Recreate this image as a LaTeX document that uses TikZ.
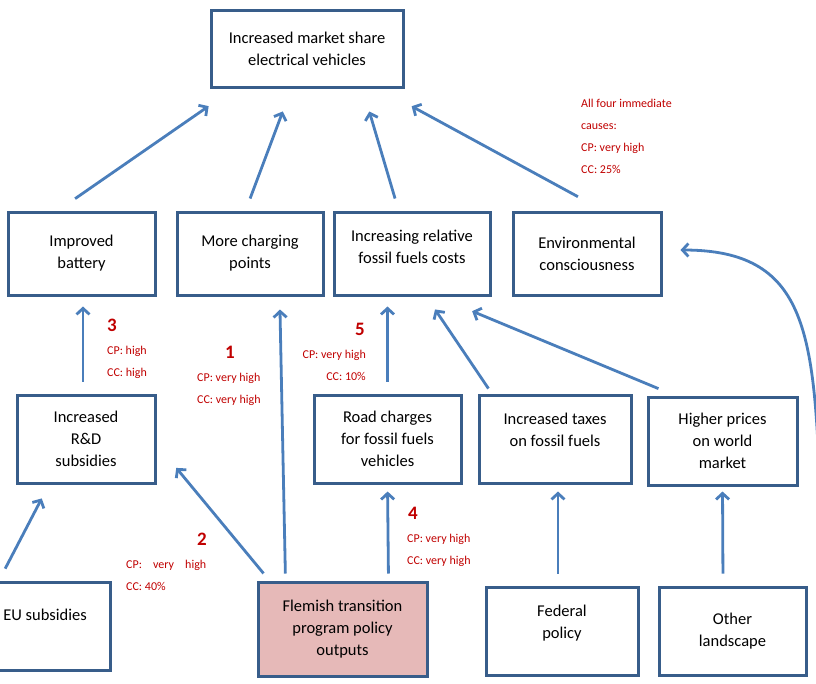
\documentclass[tikz,border=0pt]{standalone}
\usepackage{fontspec}
\setmainfont{Carlito}
\usepackage{tikz}
\usetikzlibrary{arrows.meta, positioning, calc}
\definecolor{boxblue}{HTML}{385D8A}
\definecolor{linkblue}{HTML}{4A7EBB}
\definecolor{policypink}{HTML}{E6B9B8}
\definecolor{notered}{HTML}{C00000}

\begin{document}
\begin{tikzpicture}[
    x=1pt, y=-1pt,
    box/.style 2 args={draw=boxblue, line width=3pt, align=center,
                       minimum width=#1, minimum height=#2,
                       font=\fontsize{16.5}{22}\selectfont},
    link/.style={-{Straight Barb[length=6pt, width=13pt]}, line width=2.8pt, linkblue},
    note/.style={notered, inner sep=0pt, font=\fontsize{12}{22}\selectfont},
    score/.style={notered, inner sep=0pt, font=\fontsize{19}{20}\selectfont\bfseries},
]
    \useasboundingbox (0,0) rectangle (816,683);
    \clip (0,0) rectangle (816,683);

    % Outcome and immediate causes
    \node[box={192pt}{77pt}] (share) at (307,48.5) {Increased market share\\electrical vehicles};
    \node[box={147pt}{83pt}] (battery) at (81.5,253.5) {Improved\\battery};
    \node[box={146pt}{83pt}] (charging) at (250,253.5) {More charging\\points};
    \node[box={156pt}{83pt}] (fossil) at (412,253.5) {Increasing relative\\fossil fuels costs\\[-16pt]\strut};
    \node[box={148pt}{83pt}] (environ) at (587,253.5) {Environmental\\consciousness};

    % Intermediate causes
    \node[box={138pt}{88pt}] (rnd) at (86,439) {Increased\\R\&D\\subsidies};
    \node[box={147pt}{88pt}] (road) at (387.5,439) {Road charges\\for fossil fuels\\vehicles};
    \node[box={152pt}{88pt}] (taxes) at (555,439) {Increased taxes\\on fossil fuels\\[-10pt]\strut};
    \node[box={149pt}{88pt}] (prices) at (722.5,441) {Higher prices\\on world\\market};

    % Policies and landscape
    \node[box={130pt}{88pt}] (eu) at (45,626) {EU subsidies\\[-7pt]\strut};
    \node[box={169pt}{94pt}, fill=policypink] (flemish) at (342.5,629) {Flemish transition\\program policy\\outputs};
    \node[box={152pt}{88pt}] (federal) at (562,631) {Federal\\policy\\[-11pt]\strut};
    \node[box={147pt}{88pt}] (landscape) at (732.5,631) {Other\\landscape};
    \coordinate (offpage) at (820,492);

    % Links to the outcome
    \draw[link, shorten <=20.8pt, shorten >=31pt] ([xshift=-23.5pt]battery.north) -- ([xshift=24.6pt]share.south west);
    \draw[link, shorten <=12.8pt, shorten >=24.5pt] ([xshift=-4.4pt]charging.north) -- ([xshift=-15.6pt]share.south);
    \draw[link, shorten <=12.5pt, shorten >=24pt] ([xshift=-13.4pt]fossil.north) -- ([xshift=-42pt]share.south east);
    \draw[link, shorten <=28.9pt, shorten >=37.2pt] ([xshift=16.3pt]environ.north) -- ([xshift=-25.5pt]share.south east);

    % Links to the immediate causes
    \draw[link, shorten <=12pt, shorten >=10pt] ([xshift=-3pt]rnd.north) -- ([xshift=1.5pt]battery.south);
    \draw[link, shorten <=7pt, shorten >=13pt] ([xshift=29pt]flemish.north west) -- ([xshift=29.7pt]charging.south);
    \draw[link, shorten <=12pt, shorten >=10pt] (road.north) -- ([xshift=-24.5pt]fossil.south);
    \draw[link, shorten <=6pt, shorten >=15.6pt] ([xshift=14.3pt]taxes.north west) -- ([xshift=14.3pt]fossil.south);
    \draw[link, shorten <=17.9pt, shorten >=38.3pt] ([xshift=28.5pt]prices.north west) -- ([xshift=24.8pt]fossil.south);
    \draw[link, shorten >=18pt] (offpage) .. controls (814,330) and (806,250) .. ([yshift=3.5pt]environ.east);

    % Links from the policies
    \draw[link, shorten <=13.4pt, shorten >=15.7pt] ([xshift=-46pt]eu.north) -- ([xshift=-37pt]rnd.south);
    \draw[link, shorten <=9.2pt, shorten >=31pt] ([xshift=12.9pt]flemish.north west) -- ([yshift=-5pt]rnd.east);
    \draw[link, shorten <=7pt, shorten >=7pt] ([xshift=-40pt]flemish.north east) -- (road.south);
    \draw[link, shorten <=12pt, shorten >=7pt] ([xshift=-4pt]federal.north) -- ([xshift=3pt]taxes.south);
    \draw[link, shorten <=12pt, shorten >=5pt] ([xshift=-9.5pt]landscape.north) -- (prices.south);

    % Scores
    \node[note, anchor=north west, align=left] (allfour) at (581,98.5) {All four immediate\\causes:\\CP: very high\\CC: 25\%};
    \node[score] (s3) at (112,325) {3};
    \node[note, anchor=north west, align=left] (n3) at (107,345.5) {CP: high\\CC: high};
    \node[score] (s1) at (230,352) {1};
    \node[note, anchor=north west, align=left] (n1) at (197,372.5) {CP: very high\\CC: very high};
    \node[score] (s5) at (360,329) {5};
    \node[note, anchor=north east, align=right] (n5) at (366,349.5) {CP: very high\\CC: 10\%};
    \node[score] (s2) at (202,539) {2};
    \node[note, anchor=north west, align=left] (n2) at (126,559.5) {\makebox[80pt][s]{CP: very high}\\CC: 40\%};
    \node[score] (s4) at (413,513) {4};
    \node[note, anchor=north west, align=left] (n4) at (407,533.5) {CP: very high\\CC: very high};
\end{tikzpicture}
\end{document}
